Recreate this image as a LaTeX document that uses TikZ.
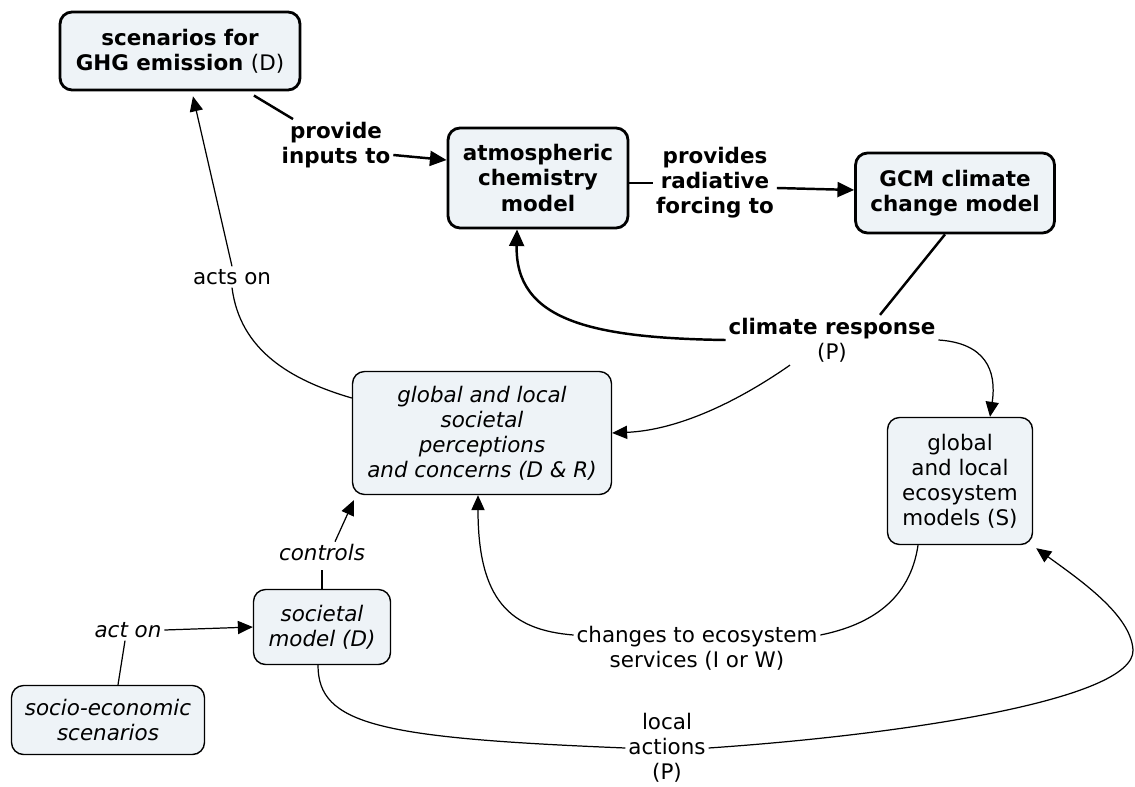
\documentclass[tikz,border=0pt]{standalone}
\usepackage{fontspec}
\setmainfont{DejaVu Sans}
\usetikzlibrary{arrows.meta}
\definecolor{conceptfill}{RGB}{238,243,247}
\tikzstyle{every node}=[font=\fontsize{12.2}{14.3}\selectfont]
\tikzstyle{concept}=[draw, rounded corners=0.24cm, fill=conceptfill, align=center, line width=0.8pt, inner sep=2pt]
\tikzstyle{keyconcept}=[concept, line width=1.6pt, font=\fontsize{12.2}{14.3}\selectfont\bfseries]
\tikzstyle{softconcept}=[concept, font=\fontsize{12.2}{14.3}\selectfont\itshape]
\tikzstyle{linkword}=[align=center, inner sep=1.5pt]
\tikzstyle{thinlink}=[line width=0.7pt]
\tikzstyle{thinarrow}=[thinlink, -{Triangle[length=8.5pt,width=7.5pt]}]
\tikzstyle{boldlink}=[line width=1.4pt]
\tikzstyle{boldarrow}=[boldlink, -{Triangle[length=9.5pt,width=8.5pt]}]

\begin{document}
\begin{tikzpicture}[x=0.02cm,y=-0.02cm]
	\useasboundingbox (0,0) rectangle (1135,787);
	% concepts
	\node[keyconcept, minimum width=4.8cm, minimum height=1.56cm] (ghg) at (180,51) {scenarios for\\GHG emission {\mdseries (D)}};
	\node[keyconcept, minimum width=3.6cm, minimum height=2cm] (atmos) at (538,178) {atmospheric\\chemistry\\model};
	\node[keyconcept, minimum width=3.98cm, minimum height=1.6cm] (gcm) at (955,193) {GCM climate\\change model};
	\node[softconcept, minimum width=5.18cm, minimum height=2.46cm] (percep) at (482,433) {global and local\\societal\\perceptions\\and concerns (D \& R)};
	\node[concept, minimum width=2.9cm, minimum height=2.54cm] (ecosys) at (960,481) {global\\and local\\ecosystem\\models (S)};
	\node[softconcept, minimum width=2.74cm, minimum height=1.5cm] (socmod) at (322,627) {societal\\model (D)};
	\node[softconcept, minimum width=3.86cm, minimum height=1.38cm] (socecon) at (108,720) {socio-economic\\scenarios};
	% linking words
	\node[linkword, font=\fontsize{12.2}{14.3}\selectfont\bfseries] (lprovide) at (336,145) {provide\\inputs to};
	\node[linkword, font=\fontsize{12.2}{14.3}\selectfont\bfseries] (lforcing) at (715,183) {provides\\radiative\\forcing to};
	\node[linkword] (lresponse) at (832,340) {\textbf{climate response}\\(P)};
	\node[linkword] (lacts) at (232,277) {acts on};
	\node[linkword, font=\fontsize{12.2}{14.3}\selectfont\itshape] (lcontrols) at (322,553) {controls};
	\node[linkword, font=\fontsize{12.2}{14.3}\selectfont\itshape] (lacton) at (128,630) {act on};
	\node[linkword] (lchanges) at (697,648) {changes to ecosystem\\services (I or W)};
	\node[linkword] (lactions) at (667,748) {local\\actions\\(P)};
	% bold links
	\draw[boldlink, shorten <=0.16cm] (ghg) -- (lprovide);
	\draw[boldarrow] ([yshift=-0.2cm]lprovide.east) -- ([yshift=0.36cm]atmos.west);
	\draw[boldlink] (atmos.east |- lforcing) -- (lforcing.west);
	\draw[boldarrow] ([yshift=-0.1cm]lforcing.east) -- ([yshift=0.06cm]gcm.west);
	\draw[boldlink] ([xshift=-0.2cm]gcm.south) -- ([xshift=0.96cm]lresponse.north);
	\draw[boldarrow] (lresponse.west) .. controls (590,338) and (515,320) .. ([xshift=-0.42cm]atmos.south);
	% thin links
	\draw[thinarrow] ([xshift=-0.84cm]lresponse.south) .. controls (740,400) and (680,430) .. (percep.east);
	\draw[thinarrow] (lresponse.east) .. controls (985,343) and (997,370) .. ([xshift=0.6cm]ecosys.north);
	\draw[thinlink] ([yshift=0.7cm]percep.west) .. controls (290,380) and (240,350) .. (lacts.south);
	\draw[thinarrow] (lacts.north) -- ([xshift=0.26cm,yshift=-0.1cm]ghg.south);
	\draw[thinlink] (socmod.north) -- ([yshift=-0.12cm]lcontrols.south);
	\draw[thinarrow] ([xshift=0.26cm]lcontrols.north) -- ([xshift=0.04cm,yshift=-0.1cm]percep.south west);
	\draw[thinlink] ([xshift=0.2cm]socecon.north) -- ([xshift=-0.06cm]lacton.south);
	\draw[thinarrow] (lacton.east) -- (socmod.west);
	\draw[thinlink] ([xshift=-0.84cm]ecosys.south) .. controls (910,600) and (870,625) .. ([yshift=0.26cm]lchanges.east);
	\draw[thinarrow] ([yshift=0.26cm]lchanges.west) .. controls (510,630) and (478,600) .. ([xshift=-0.08cm]percep.south);
	\draw[thinlink] ([xshift=-0.08cm]socmod.south) .. controls (318,725) and (380,738) .. (lactions.west);
	\draw[thinarrow] (lactions.east) .. controls (900,735) and (1135,700) .. (1133,650) .. controls (1131,615) and (1080,580) .. ([xshift=0.06cm,yshift=-0.06cm]ecosys.south east);
\end{tikzpicture}
\end{document}
